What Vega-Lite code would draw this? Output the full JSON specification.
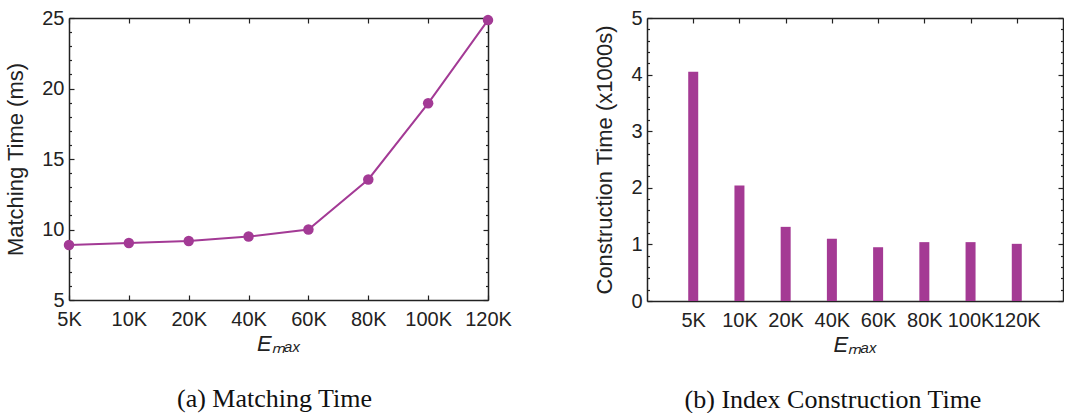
{
  "$schema": "https://vega.github.io/schema/vega-lite/v6.json",
  "padding": {"left": 4, "top": 8, "right": 0, "bottom": 0},
  "background": "white",
  "bounds": "flush",
  "spacing": 159,
  "config": {
    "view": {"stroke": null},
    "font": "Liberation Sans",
    "axis": {
      "grid": false,
      "labelFont": "Liberation Sans",
      "labelFontSize": 20,
      "labelColor": "#222222",
      "titleFont": "Liberation Sans",
      "titleFontSize": 22,
      "titleFontWeight": "normal",
      "titleColor": "#222222",
      "domainColor": "#222222",
      "domainWidth": 1.5,
      "tickColor": "#222222",
      "tickWidth": 1.2
    },
    "title": {"font": "Liberation Serif", "fontSize": 26, "fontWeight": "normal", "color": "#111111", "orient": "bottom"}
  },
  "datasets": {
    "matching": [
      {"emax": "5K", "ms": 8.9},
      {"emax": "10K", "ms": 9.04},
      {"emax": "20K", "ms": 9.18},
      {"emax": "40K", "ms": 9.5},
      {"emax": "60K", "ms": 10.0},
      {"emax": "80K", "ms": 13.55},
      {"emax": "100K", "ms": 18.95},
      {"emax": "120K", "ms": 24.85}
    ],
    "construction": [
      {"emax": "5K", "ks": 4.05},
      {"emax": "10K", "ks": 2.04},
      {"emax": "20K", "ks": 1.31},
      {"emax": "40K", "ks": 1.1},
      {"emax": "60K", "ks": 0.95},
      {"emax": "80K", "ks": 1.04},
      {"emax": "100K", "ks": 1.04},
      {"emax": "120K", "ks": 1.01}
    ]
  },
  "hconcat": [
    {
      "width": 419,
      "height": 282,
      "title": {"text": "(a) Matching Time", "dx": -4, "offset": 32},
      "data": {"name": "matching"},
      "layer": [
        {
          "mark": {"type": "line", "color": "#A33A95", "strokeWidth": 2},
          "encoding": {
            "x": {
              "field": "emax", "type": "ordinal", "sort": null,
              "scale": {"type": "point", "padding": 0},
              "axis": {
                "orient": "bottom", "title": "Eₘₐₓ", "titleFontStyle": "italic",
                "labelAngle": 0, "tickSize": -5, "labelPadding": 14, "titlePadding": 4
              }
            },
            "y": {
              "field": "ms", "type": "quantitative",
              "scale": {"domain": [5, 25], "nice": false, "zero": false},
              "axis": {
                "orient": "left", "title": "Matching Time (ms)",
                "values": [5,6,7,8,9,10,11,12,13,14,15,16,17,18,19,20,21,22,23,24,25],
                "labelExpr": "datum.value % 5 === 0 ? format(datum.value, 'd') : ''",
                "tickSize": {"condition": {"test": "datum.value % 5 === 0", "value": -5}, "value": -2.5},
                "labelPadding": 10, "titlePadding": 14
              }
            }
          }
        },
        {
          "mark": {"type": "point", "filled": true, "size": 110, "opacity": 1, "color": "#A33A95"},
          "encoding": {
            "x": {"field": "emax", "type": "ordinal", "sort": null, "axis": null},
            "y": {"field": "ms", "type": "quantitative", "axis": null}
          }
        },
        {
          "mark": {"type": "point", "opacity": 0},
          "encoding": {
            "x": {
              "field": "emax", "type": "ordinal", "sort": null,
              "axis": {"orient": "top", "labels": false, "title": null, "tickSize": -5}
            },
            "y": {
              "field": "ms", "type": "quantitative",
              "axis": {
                "orient": "right", "labels": false, "title": null,
                "values": [5,6,7,8,9,10,11,12,13,14,15,16,17,18,19,20,21,22,23,24,25],
                "tickSize": {"condition": {"test": "datum.value % 5 === 0", "value": -5}, "value": -2.5}
              }
            }
          }
        }
      ],
      "resolve": {"axis": {"x": "independent", "y": "independent"}}
    },
    {
      "width": 416,
      "height": 283,
      "title": {"text": "(b) Index Construction Time", "dx": -22, "offset": 32},
      "data": {"name": "construction"},
      "layer": [
        {
          "mark": {"type": "bar", "color": "#A43A94", "size": 10},
          "encoding": {
            "x": {
              "field": "emax", "type": "ordinal", "sort": null,
              "scale": {"type": "point", "padding": 1},
              "axis": {
                "orient": "bottom", "title": "Eₘₐₓ", "titleFontStyle": "italic",
                "labelAngle": 0, "tickSize": -5, "labelPadding": 14, "titlePadding": 4
              }
            },
            "y": {
              "field": "ks", "type": "quantitative",
              "scale": {"domain": [0, 5], "nice": false},
              "axis": {
                "orient": "left", "title": "Construction Time (x1000s)",
                "values": [0,0.2,0.4,0.6,0.8,1,1.2,1.4,1.6,1.8,2,2.2,2.4,2.6,2.8,3,3.2,3.4,3.6,3.8,4,4.2,4.4,4.6,4.8,5],
                "labelExpr": "datum.value % 1 === 0 ? format(datum.value, 'd') : ''",
                "tickSize": {"condition": {"test": "datum.value % 1 === 0", "value": -5}, "value": -2.5},
                "labelPadding": 10, "titlePadding": 14
              }
            }
          }
        },
        {
          "mark": {"type": "point", "opacity": 0},
          "encoding": {
            "x": {
              "field": "emax", "type": "ordinal", "sort": null,
              "axis": {"orient": "top", "labels": false, "title": null, "tickSize": -5}
            },
            "y": {
              "field": "ks", "type": "quantitative",
              "axis": {
                "orient": "right", "labels": false, "title": null,
                "values": [0,0.2,0.4,0.6,0.8,1,1.2,1.4,1.6,1.8,2,2.2,2.4,2.6,2.8,3,3.2,3.4,3.6,3.8,4,4.2,4.4,4.6,4.8,5],
                "tickSize": {"condition": {"test": "datum.value % 1 === 0", "value": -5}, "value": -2.5}
              }
            }
          }
        }
      ],
      "resolve": {"axis": {"x": "independent", "y": "independent"}}
    }
  ]
}
